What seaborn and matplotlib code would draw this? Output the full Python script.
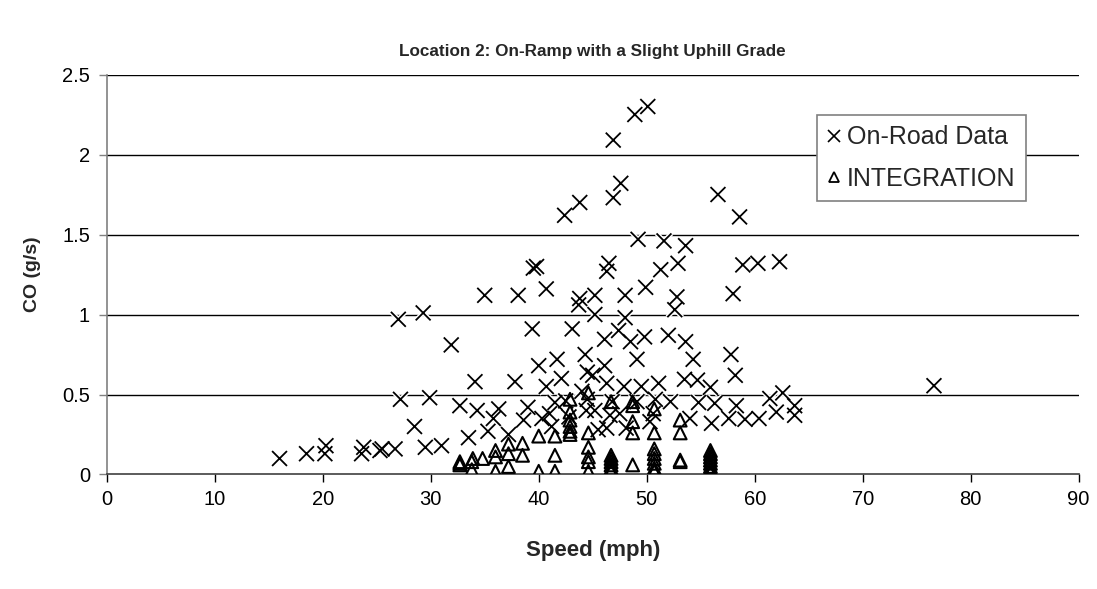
import matplotlib
matplotlib.use("Agg")
import matplotlib.pyplot as plt
import matplotlib.patheffects as pe
from matplotlib.lines import Line2D
import numpy as np
import pandas as pd
import seaborn as sns

# On-road measurements: speed (mph) and CO emission rate (g/s)
road_speed = [16.0, 18.5, 20.2, 20.3, 23.6, 23.8, 25.3, 25.5, 26.7, 27.0,
              27.2, 28.5, 29.3, 29.5, 29.9, 31.0, 31.9, 32.7, 33.5, 34.1,
              34.3, 35.0, 35.3, 35.8, 36.3, 37.2, 37.8, 38.1, 38.6, 39.4,
              39.5, 39.8, 40.0, 40.3, 40.7, 40.7, 41.2, 41.5, 41.7, 42.1,
              42.4, 42.5, 43.1, 43.7, 43.8, 43.8, 44.0, 44.3, 44.5, 44.4,
              44.5, 45.2, 45.2, 45.2, 45.5, 46.1, 46.1, 46.3, 46.3, 46.3,
              46.5, 46.6, 46.8, 46.9, 46.9, 47.4, 47.6, 47.9, 48.0, 48.0,
              48.1, 48.5, 48.9, 49.1, 49.1, 49.2, 49.5, 49.8, 49.9, 50.1,
              50.3, 50.6, 51.1, 51.3, 51.6, 52.0, 52.2, 52.6, 52.8, 52.9,
              53.5, 53.6, 53.6, 54.0, 54.3, 54.7, 55.9, 56.0, 56.3, 56.6,
              57.6, 57.8, 58.0, 58.2, 58.3, 58.6, 58.9, 59.1, 60.3, 60.4,
              61.4, 62.0, 62.3, 62.6, 63.7, 63.7, 76.6,
              39.0, 41.0, 42.8, 45.0, 47.5, 50.8, 54.8]
road_co = [0.10, 0.13, 0.13, 0.18, 0.13, 0.17, 0.15, 0.16, 0.16, 0.97,
           0.47, 0.30, 1.01, 0.17, 0.48, 0.18, 0.81, 0.43, 0.23, 0.58,
           0.40, 1.12, 0.27, 0.35, 0.41, 0.25, 0.58, 1.12, 0.34, 0.91,
           1.29, 1.30, 0.68, 0.35, 0.55, 1.16, 0.30, 0.45, 0.72, 0.60,
           1.62, 0.46, 0.91, 1.06, 1.70, 1.10, 0.52, 0.75, 0.64, 0.40,
           0.47, 1.12, 1.00, 0.40, 0.28, 0.845, 0.68, 0.57, 0.29, 1.27,
           1.32, 0.37, 0.455, 1.73, 2.09, 0.90, 1.82, 0.55, 1.12, 0.98,
           0.29, 0.83, 2.25, 0.72, 0.455, 1.47, 0.55, 0.86, 1.17, 2.30,
           0.33, 0.38, 0.57, 1.28, 1.46, 0.87, 0.455, 1.03, 1.11, 1.32,
           0.595, 0.83, 1.43, 0.35, 0.72, 0.59, 0.545, 0.32, 0.445, 1.75,
           0.35, 0.75, 1.13, 0.62, 0.43, 1.61, 1.31, 0.345, 1.32, 0.35,
           0.475, 0.39, 1.33, 0.51, 0.43, 0.37, 0.555,
           0.42, 0.38, 0.36, 0.62, 0.38, 0.47, 0.45]

# INTEGRATION model estimates
integ_speed = [32.7, 32.7, 32.7, 33.8, 33.9, 33.8, 34.8, 36.0, 36.0, 36.0,
               37.2, 37.2, 37.2, 38.5, 38.5, 40.0, 40.0, 41.5, 41.5, 41.5,
               42.9, 42.9, 42.9, 42.9, 42.9, 42.9,
               44.6, 44.6, 44.6, 44.6, 44.6, 44.6,
               46.7, 46.7, 46.7, 46.7, 46.7, 46.7, 46.7,
               48.7, 48.7, 48.7, 48.7, 48.7,
               50.7, 50.7, 50.7, 50.7, 50.7, 50.7, 50.7, 50.7,
               53.1, 53.1, 53.1, 53.1,
               55.9, 55.9, 55.9, 55.9, 55.9, 55.9, 55.9, 55.9]
integ_co = [0.06, 0.07, 0.08, 0.03, 0.10, 0.08, 0.10, 0.15, 0.11, 0.02,
            0.19, 0.13, 0.05, 0.195, 0.12, 0.24, 0.02, 0.24, 0.12, 0.02,
            0.47, 0.39, 0.34, 0.30, 0.27, 0.25,
            0.51, 0.26, 0.17, 0.11, 0.08, 0.02,
            0.455, 0.12, 0.10, 0.08, 0.06, 0.04, 0.02,
            0.455, 0.43, 0.33, 0.26, 0.06,
            0.41, 0.26, 0.16, 0.13, 0.10, 0.07, 0.04, 0.02,
            0.34, 0.26, 0.09, 0.08,
            0.15, 0.13, 0.11, 0.09, 0.07, 0.05, 0.03, 0.01]

x_ticks = [0, 10, 20, 30, 40, 50, 60, 70, 80, 90]
y_ticks = [0, 0.5, 1, 1.5, 2, 2.5]
y_tick_labels = ["0", "0.5", "1", "1.5", "2", "2.5"]

road = pd.DataFrame({"speed": road_speed, "co": road_co})
integ = pd.DataFrame({"speed": integ_speed, "co": integ_co})

sns.set_style("white")
plt.rcParams["font.family"] = ["Liberation Sans", "DejaVu Sans"]

fig = plt.figure(figsize=(10.97, 5.89), dpi=100)
ax = fig.add_axes([0.0973, 0.1944, 0.8860, 0.6791])

halo = [pe.Stroke(linewidth=3.4, foreground="white"), pe.Normal()]

sns.scatterplot(data=road, x="speed", y="co", ax=ax, marker="x", s=115,
                color="black", linewidth=1.3, zorder=3, legend=False)
ax.collections[-1].set_path_effects(halo)

sns.scatterplot(data=integ, x="speed", y="co", ax=ax, marker="^", s=85,
                facecolor="none", edgecolor="black", linewidth=1.5,
                zorder=4, legend=False)

ax.set_xlim(0, 90)
ax.set_ylim(0, 2.5)
ax.set_xticks(x_ticks)
ax.set_yticks(y_ticks)
ax.set_yticklabels(y_tick_labels)

for y in y_ticks[1:]:
    ax.axhline(y, color="black", linewidth=1.0, zorder=1)

for side in ["top", "right"]:
    ax.spines[side].set_visible(False)
ax.spines["left"].set_color("#808080")
ax.spines["left"].set_linewidth(1.2)
ax.spines["bottom"].set_color("#404040")
ax.spines["bottom"].set_linewidth(1.2)

ax.tick_params(axis="both", direction="out", length=6, width=1.0,
               colors="black", labelsize=14.5, left=True, bottom=True)
ax.tick_params(axis="y", color="#808080", pad=6)
ax.tick_params(axis="x", pad=5)

ax.set_xlabel("Speed (mph)", fontsize=16, fontweight="bold", labelpad=22.5)
ax.set_ylabel("CO (g/s)", fontsize=14, fontweight="bold", labelpad=15.5)
ax.set_title("Location 2: On-Ramp with a Slight Uphill Grade",
             fontsize=12.3, fontweight="bold", pad=13)

handles = [
    Line2D([], [], linestyle="none", marker="x", markersize=8.5,
           color="black", markeredgewidth=1.2),
    Line2D([], [], linestyle="none", marker="^", markersize=7.5,
           markerfacecolor="none", markeredgecolor="black",
           markeredgewidth=1.3),
]
leg = ax.legend(handles, ["On-Road Data", "INTEGRATION"],
                loc="upper left", bbox_to_anchor=(0.7308, 0.899),
                fontsize=18, frameon=True, fancybox=False,
                handlelength=0.5, handletextpad=0.28, borderpad=0.42,
                labelspacing=0.7, borderaxespad=0)
leg.get_frame().set_edgecolor("#808080")
leg.get_frame().set_linewidth(1.2)
leg.get_frame().set_facecolor("white")
leg.get_frame().set_alpha(1)
leg.set_zorder(10)

fig.savefig("out.png", dpi=100)
